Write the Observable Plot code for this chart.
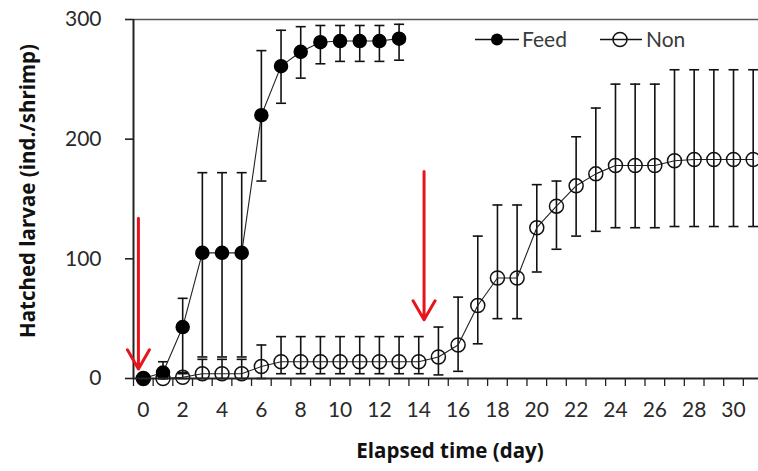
<!DOCTYPE html>
<html><head><meta charset="utf-8">
<script src="https://cdn.jsdelivr.net/npm/d3@7"></script>
<script src="https://cdn.jsdelivr.net/npm/@observablehq/plot@0.6"></script>
<style>
body{margin:0;background:#fff;}
#wrap{position:relative;width:758px;height:471px;font-family:Lato,"Open Sans",sans-serif;}
#legend{position:absolute;left:0;top:0;pointer-events:none;}
</style></head><body><div id="wrap"></div>
<script>
// Feed series (days 0-13)
const feedDays = [0,1,2,3,4,5,6,7,8,9,10,11,12,13];
const feedMean = [0,5,43,105,105,105,220,261,273,281,282,282,282,284];
const feedLow  = [0,0,5,18,18,18,165,230,251,263,265,265,265,266];
const feedHigh = [2,14,67,172,172,172,274,291,294,295,295,295,295,296];

// Non series (days 0-31)
const nonDays = [0,1,2,3,4,5,6,7,8,9,10,11,12,13,14,15,16,17,18,19,20,21,22,23,24,25,26,27,28,29,30,31];
const nonMean = [0,0,1,4,4,4,10,14,14,14,14,14,14,14,14,18,28,61,84,84,126,144,161,171,178,178,178,182,183,183,183,183];
const nonLow  = [0,0,0,0,0,0,0,4,4,4,4,4,4,4,4,3,6,29,50,50,89,108,119,123,126,126,126,127,127,127,127,127];
const nonHigh = [1,2,4,16,16,16,28,35,35,35,35,35,35,35,35,43,68,119,145,145,162,165,202,226,246,246,246,258,258,258,258,258];

// Annotation arrows (red)
const arrowDay  = [-0.25, 14.27];
const arrowFrom = [134, 173];
const arrowTo   = [8, 49];

// Axis ticks
const xTickMarks = d3.range(-0.5, 31, 1);
const xTickLabels = [0,2,4,6,8,10,12,14,16,18,20,22,24,26,28,30];
const yTicks = [0,100,200,300];

const feed = feedDays.map((d,i)=>({day:d, mean:feedMean[i], low:feedLow[i], high:feedHigh[i]}));
const non = nonDays.map((d,i)=>({day:d, mean:nonMean[i], low:nonLow[i], high:nonHigh[i]}));
const arrows = arrowDay.map((d,i)=>({day:d, from:arrowFrom[i], to:arrowTo[i]}));

const hline = {draw(ctx, size){ const r = Math.sqrt(size/Math.PI); ctx.moveTo(-r,0); ctx.lineTo(r,0); }};

function errorMarks(data){
  return [
    Plot.ruleX(data, {x:"day", y1:"low", y2:"high", stroke:"#111", strokeWidth:1.6}),
    Plot.dot(data, {x:"day", y:"high", symbol:hline, r:5, stroke:"#111", strokeWidth:1.6}),
    Plot.dot(data, {x:"day", y:"low", symbol:hline, r:5, stroke:"#111", strokeWidth:1.6})
  ];
}

const titleFont = "'Open Sans', Lato, sans-serif";

const chart = Plot.plot({
  width:758, height:471,
  marginLeft:133, marginRight:0, marginTop:19, marginBottom:93,
  style:{fontFamily:"Lato, 'Open Sans', sans-serif", fontSize:"21px", color:"#2a2a2a", background:"#fff"},
  x:{domain:[-0.5, 31.27]},
  y:{domain:[0,300]},
  marks:[
    Plot.ruleY([300], {stroke:"#555", strokeWidth:1.6}),
    Plot.axisX({ticks:xTickMarks, tickSize:8, tickFormat:()=>"", label:null, stroke:"#222", strokeWidth:1.3}),
    Plot.axisX({ticks:xTickLabels, tickSize:0, tickPadding:24, label:null, fill:"#2a2a2a"}),
    Plot.axisY({ticks:yTicks, tickSize:8, tickPadding:24, label:null, stroke:"#222", strokeWidth:1.6, fill:"#2a2a2a"}),
    Plot.text(["Hatched larvae (ind./shrimp)"], {frameAnchor:"left", textAnchor:"middle", lineAnchor:"middle", dx:-105, dy:-8, rotate:-90, fontFamily:titleFont, fontWeight:"bold", fontSize:20.5, fill:"#111"}),
    Plot.text(["Elapsed time (day)"], {frameAnchor:"bottom", textAnchor:"middle", lineAnchor:"middle", dx:4, dy:73, fontFamily:titleFont, fontWeight:"bold", fontSize:20.5, fill:"#111"}),
    ...errorMarks(non),
    Plot.line(non, {x:"day", y:"mean", stroke:"#222", strokeWidth:1.1}),
    Plot.dot(non, {x:"day", y:"mean", r:7, stroke:"#111", strokeWidth:1.5, fill:"none"}),
    ...errorMarks(feed),
    Plot.line(feed, {x:"day", y:"mean", stroke:"#222", strokeWidth:1.1}),
    Plot.dot(feed, {x:"day", y:"mean", r:6.5, fill:"#000", stroke:"#000"}),
    Plot.ruleX([-0.5], {stroke:"#222", strokeWidth:2}),
    Plot.ruleY([0], {stroke:"#222", strokeWidth:2}),
    Plot.arrow(arrows, {x1:"day", x2:"day", y1:"from", y2:"to", stroke:"#e8141b", strokeWidth:3, headLength:11, headAngle:60})
  ]
});

const wrap = document.getElementById("wrap");
wrap.appendChild(chart);

// Legend overlay
const ns = "http://www.w3.org/2000/svg";
const lg = document.createElementNS(ns, "svg");
lg.setAttribute("id","legend"); lg.setAttribute("width",758); lg.setAttribute("height",471);
lg.innerHTML = `
 <line x1="475" y1="39.5" x2="519" y2="39.5" stroke="#111" stroke-width="1.5"/>
 <circle cx="497" cy="39.5" r="6" fill="#000"/>
 <text x="522" y="47" font-family="Lato, 'Open Sans', sans-serif" font-size="21" fill="#3a3a3a">Feed</text>
 <line x1="600" y1="39.5" x2="642" y2="39.5" stroke="#111" stroke-width="1.5"/>
 <circle cx="620" cy="39.5" r="7" fill="none" stroke="#111" stroke-width="1.5"/>
 <text x="646" y="47" font-family="Lato, 'Open Sans', sans-serif" font-size="21" fill="#3a3a3a">Non</text>`;
wrap.appendChild(lg);
</script></body></html>
